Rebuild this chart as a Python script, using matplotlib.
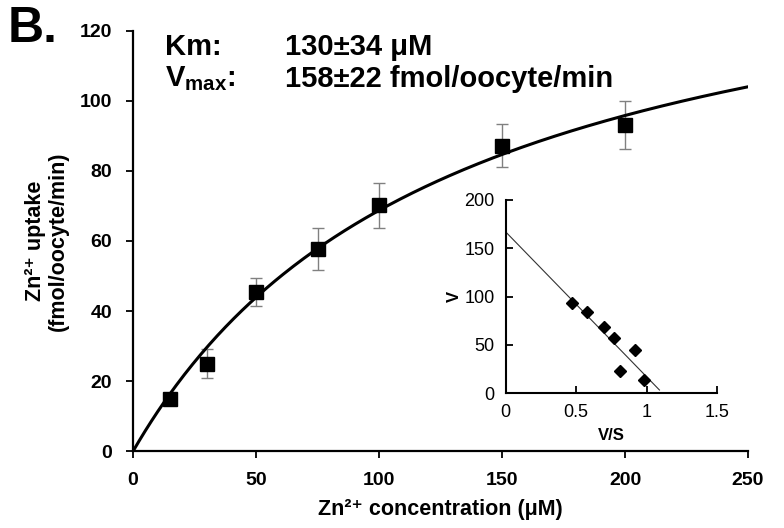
import matplotlib
matplotlib.use("Agg")
import matplotlib.pyplot as plt
import numpy as np
from matplotlib import font_manager as fm

names = {f.name for f in fm.fontManager.ttflist}
base = "Liberation Sans Narrow" if "Liberation Sans Narrow" in names else "Liberation Sans"
FAM = [base, "Liberation Sans", "DejaVu Sans"]
plt.rcParams['font.family'] = FAM
plt.rcParams['mathtext.fontset'] = 'custom'
plt.rcParams['mathtext.rm'] = base + ':bold'
plt.rcParams['mathtext.bf'] = base + ':bold'
plt.rcParams['mathtext.it'] = base + ':bold'

# ---- data ----
conc = [15, 30, 50, 75, 100, 150, 200]
uptake = [15.0, 25.0, 45.4, 57.8, 70.2, 87.2, 93.1]
uptake_err = [1.5, 4.2, 4.1, 6.0, 6.4, 6.2, 6.8]
Km = 130
Vmax = 158

vs = [0.47, 0.573, 0.70, 0.77, 0.915, 0.81, 0.98]
v = [93, 84.5, 68.7, 56.7, 45, 23.4, 14]
line_vs = [0, 1.09]
line_v = [167, 3.4]

xticks = [0, 50, 100, 150, 200, 250]
yticks = [0, 20, 40, 60, 80, 100, 120]
in_xticks = [0, 0.5, 1, 1.5]
in_xticklabels = ['0', '0.5', '1', '1.5']
in_yticks = [0, 50, 100, 150, 200]

fig = plt.figure(figsize=(7.84, 5.28), dpi=100)
ax = fig.add_axes([133/784, 1-451.3/528, 615/784, 420.8/528])

s = np.linspace(0, 250, 300)
ax.plot(s, Vmax * s / (Km + s), color='black', lw=2.2, zorder=2)
ax.errorbar(conc, uptake, yerr=uptake_err, fmt='none', ecolor='#808080',
            elinewidth=1.0, capsize=4, capthick=1.0, zorder=1)
ax.plot(conc, uptake, 's', color='black', ms=10, zorder=3)

ax.set_xlim(0, 250)
ax.set_ylim(0, 120)
ax.set_xticks(xticks)
ax.set_yticks(yticks)
for sp in ['top', 'right']:
    ax.spines[sp].set_visible(False)
for sp in ['left', 'bottom']:
    ax.spines[sp].set_linewidth(1.6)
ax.tick_params(direction='out', length=5, width=1.3, labelsize=14, pad=10)
for lab in ax.get_xticklabels() + ax.get_yticklabels():
    lab.set_fontweight('bold')

fig.text(440/784, 1-509/528, 'Zn²⁺ concentration (μM)', ha='center', va='center',
         fontsize=15.5, fontweight='bold')
fig.text(47/784, 1-241/528, 'Zn²⁺ uptake\n(fmol/oocyte/min)', ha='center', va='center',
         rotation=90, fontsize=15.5, fontweight='bold', multialignment='center',
         linespacing=1.1)

fig.text(8/784, 1-29/528, 'B.', ha='left', va='center', fontsize=36, fontweight='bold')
fig.text(165/784, 1-47/528, 'Km:', ha='left', va='center', fontsize=21, fontweight='bold')
fig.text(285/784, 1-47/528, '130±34 μM', ha='left', va='center', fontsize=21, fontweight='bold')
fig.text(165/784, 1-79/528, r'V$_{\rm max}$:', ha='left', va='center', fontsize=21,
         fontweight='bold')
fig.text(285/784, 1-79/528, '158±22 fmol/oocyte/min', ha='left', va='center', fontsize=21,
         fontweight='bold')

# ---- inset ----
ia = fig.add_axes([505.7/784, 1-393.3/528, 211.6/784, 193.3/528])
ia.plot(line_vs, line_v, color='#333333', lw=0.8)
ia.plot(vs, v, 'D', color='black', ms=6.5)
ia.set_xlim(0, 1.5)
ia.set_ylim(0, 200)
ia.set_xticks(in_xticks)
ia.set_xticklabels(in_xticklabels)
ia.set_yticks(in_yticks)
for sp in ['top', 'right']:
    ia.spines[sp].set_visible(False)
for sp in ['left', 'bottom']:
    ia.spines[sp].set_linewidth(1.5)
ia.tick_params(direction='in', length=5, width=1.3, labelsize=13, pad=8)
ia.set_xlabel('V/S', fontsize=12, fontweight='bold', labelpad=5)
ia.set_ylabel('V', fontsize=12, fontweight='bold', labelpad=2)

fig.savefig('out.png', dpi=100)
